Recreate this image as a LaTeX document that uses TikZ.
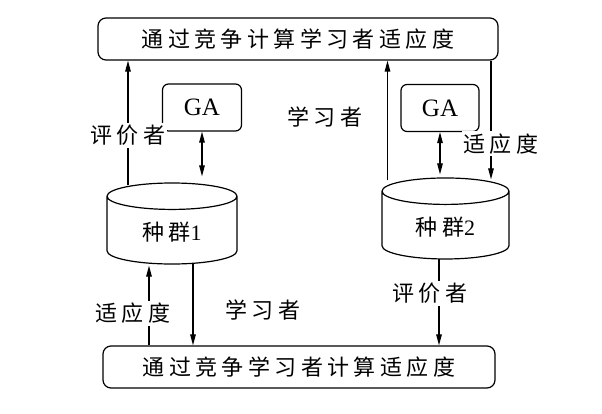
\documentclass[tikz,border=0pt]{standalone}
\usepackage{fontspec}
\setmainfont{Liberation Serif}
\newfontfamily\cjk[LetterSpace=20]{Noto Sans CJK SC}
\usetikzlibrary{positioning}
\usetikzlibrary{arrows.meta, shapes.geometric}

\begin{document}
\begin{tikzpicture}[x=1pt, y=-1pt, line width=1.2pt,
		box/.style={draw, rectangle, rounded corners=8pt, minimum height=42pt, font=\cjk\fontsize{22}{22}\selectfont},
		ga/.style={draw, rectangle, rounded corners=6pt, minimum width=79pt, minimum height=47pt, font=\fontsize{25}{25}\selectfont},
		pop/.style={draw, cylinder, shape border rotate=90, aspect=0.4, minimum width=130pt, minimum height=81pt, font=\fontsize{22}{22}\selectfont},
		lbl/.style={fill=white, inner sep=2pt, font=\cjk\fontsize{22}{22}\selectfont},
		arr/.style={-{Triangle[length=11pt, width=5.5pt]}},
		darr/.style={{Triangle[length=11pt, width=5.5pt]}-{Triangle[length=11pt, width=5.5pt]}}]
		\path[use as bounding box] (0, 0) rectangle (602, 414);

		% Boxes
		\begin{scope}
			\node (top) at (298, 39) [box, minimum width=400pt] {通过竞争计算学习者适应度};
			\node (bot) at (299, 367) [box, minimum width=392pt] {通过竞争学习者计算适应度};
		\end{scope}

		% Populations
		\begin{scope}
			\node (pop1) at (172, 232.5) [pop] {{\cjk 种群}1};
			\node (pop2) at (445.5, 227.5) [pop, minimum width=127pt] {{\cjk 种群}2};
			\node (ga1) at (202, 107.5) [ga] {GA};
			\node (ga2) at (440, 108) [ga, minimum width=78pt] {GA};
		\end{scope}

		% Upper connectors
		\begin{scope}
			\draw[arr] ([xshift=-44pt, yshift=-3pt]pop1.north) -- ([xshift=-44pt]pop1.north |- top.south)
				node[lbl, pos=0.4] {评价者};
			\draw[darr] (ga1.south) -- ([yshift=6pt]ga1.south |- pop1.north);
			\draw[arr] ([xshift=-58pt, yshift=-3pt]pop2.north) -- ([xshift=-58pt]pop2.north |- top.south);
			\draw[arr] ([xshift=45.5pt]pop2.north |- top.south) -- ([xshift=45.5pt, yshift=-2pt]pop2.north)
				node[lbl, pos=0.7, xshift=10pt] {适应度};
			\draw[darr] (ga2.south) -- ([yshift=3pt]ga2.south |- pop2.north);
			\node (learn_up) at (325, 117) [lbl, fill=none] {学习者};
		\end{scope}

		% Lower connectors
		\begin{scope}
			\draw[arr] ([xshift=-23pt]pop1.south |- bot.north) -- ([xshift=-23pt, yshift=-1pt]pop1.south)
				node[lbl, pos=0.4, xshift=-16pt] {适应度};
			\draw[arr] ([xshift=21pt, yshift=1pt]pop1.south) -- ([xshift=21pt]pop1.south |- bot.north);
			\draw[arr] ([xshift=-6.5pt, yshift=1pt]pop2.south) -- ([xshift=-6.5pt]pop2.south |- bot.north)
				node[lbl, pos=0.4, xshift=-9pt] {评价者};
			\node (learn_down) at (263, 310) [lbl, fill=none] {学习者};
		\end{scope}

	\end{tikzpicture}
\end{document}
